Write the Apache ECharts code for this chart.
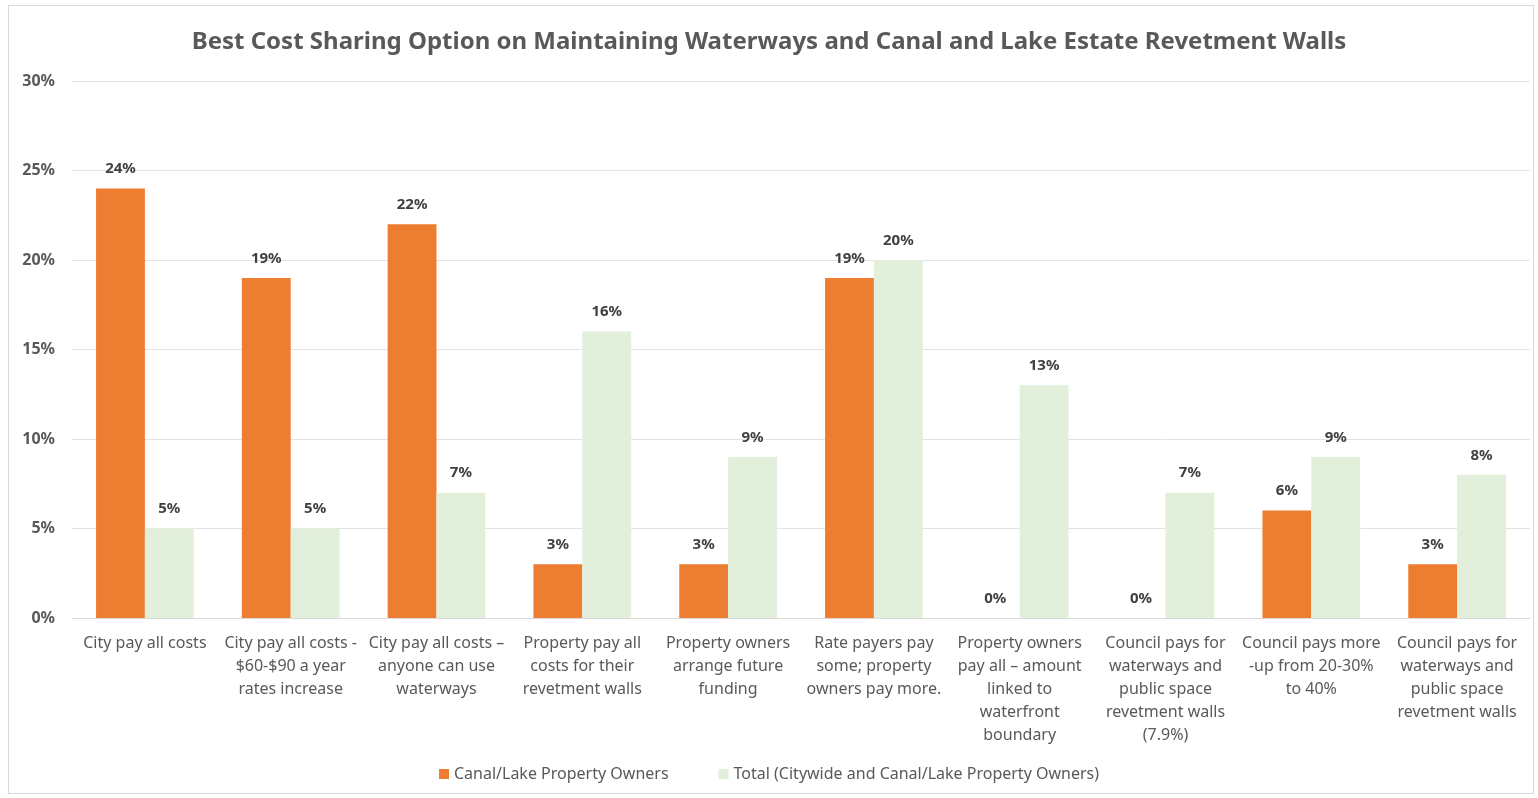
<!DOCTYPE html>
<html>
<head>
<meta charset="utf-8">
<script src="https://cdn.jsdelivr.net/npm/echarts@6/dist/echarts.min.js"></script>
<style>
  html, body { margin: 0; padding: 0; background: #fff; }
  #frame { position: absolute; left: 8px; top: 5px; width: 1526px; height: 789px; border: 1px solid #d9d9d9; box-sizing: border-box; }
  #main { width: 1538px; height: 798px; }
</style>
</head>
<body>
<div id="frame"></div>
<div id="main"></div>
<script>
const FONT = "'Noto Sans', sans-serif"

const categories = [
  'City pay all costs',
  'City pay all costs -\n$60-$90 a year\nrates increase',
  'City pay all costs \u2013\nanyone can use\nwaterways',
  'Property pay all\ncosts for their\nrevetment walls',
  'Property owners\narrange future\nfunding',
  'Rate payers pay\nsome; property\nowners pay more.',
  'Property owners\npay all \u2013 amount\nlinked to\nwaterfront\nboundary',
  'Council pays for\nwaterways and\npublic space\nrevetment walls\n(7.9%)',
  'Council pays more\n-up from 20-30%\nto 40%',
  'Council pays for\nwaterways and\npublic space\nrevetment walls'
]

const canalLakeOwners = [24, 19, 22, 3, 3, 19, 0, 0, 6, 3]
const totalCitywide = [5, 5, 7, 16, 9, 20, 13, 7, 9, 8]

const seriesNames = ['Canal/Lake Property Owners', 'Total (Citywide and Canal/Lake Property Owners)']
const seriesColors = ['#ED7D31', '#E2EFDA']

const chart = echarts.init(document.getElementById('main'))

function makeSeries(name, data, color) {
  return {
    name,
    type: 'bar',
    data,
    barGap: '0%',
    barCategoryGap: '33%',
    itemStyle: { color },
    label: {
      show: true,
      position: 'top',
      distance: 12,
      formatter: p => p.value + '%',
      fontFamily: FONT,
      fontSize: 15,
      fontWeight: 'bold',
      color: '#404040'
    }
  }
}

const option = {
  animation: false,
  backgroundColor: 'transparent',
  title: {
    text: 'Best Cost Sharing Option on Maintaining Waterways and Canal and Lake Estate Revetment Walls',
    left: 'center',
    top: 25,
    textStyle: {
      fontFamily: FONT,
      fontSize: 24,
      fontWeight: 'bold',
      color: '#595959'
    }
  },
  legend: {
    bottom: 11,
    left: 'center',
    itemWidth: 10,
    itemHeight: 10,
    itemGap: 50,
    icon: 'rect',
    textStyle: { fontFamily: FONT, fontSize: 16, color: '#595959' },
    data: seriesNames
  },
  grid: {
    left: 72,
    right: 8,
    top: 81,
    bottom: 180,
    containLabel: false
  },
  xAxis: {
    type: 'category',
    data: categories,
    axisTick: { show: false },
    axisLine: { lineStyle: { color: '#d9d9d9', width: 1 } },
    axisLabel: {
      interval: 0,
      margin: 14,
      fontFamily: FONT,
      fontSize: 16,
      lineHeight: 23,
      color: '#595959'
    }
  },
  yAxis: {
    type: 'value',
    min: 0,
    max: 30,
    interval: 5,
    axisLine: { show: false },
    axisTick: { show: false },
    axisLabel: {
      formatter: '{value}%',
      margin: 17,
      fontFamily: FONT,
      fontSize: 16,
      fontWeight: 'bold',
      color: '#595959'
    },
    splitLine: { lineStyle: { color: '#e3e3e3', width: 1 } }
  },
  series: [
    makeSeries(seriesNames[0], canalLakeOwners, seriesColors[0]),
    makeSeries(seriesNames[1], totalCitywide, seriesColors[1])
  ]
}

chart.setOption(option)
</script>
</body>
</html>
